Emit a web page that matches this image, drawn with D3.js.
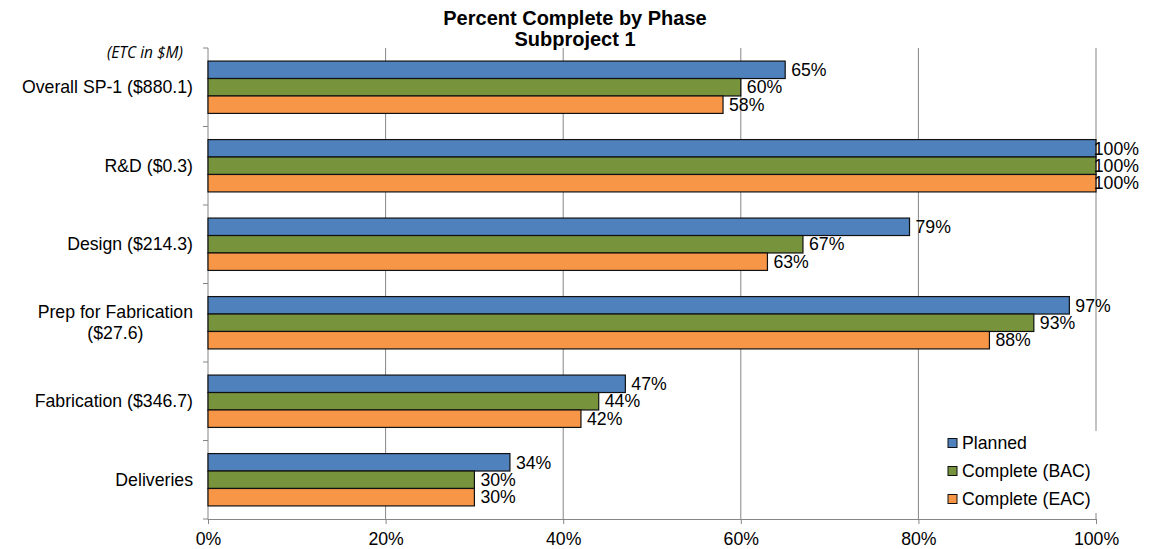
<!DOCTYPE html>
<html>
<head>
<meta charset="utf-8">
<script src="https://cdn.jsdelivr.net/npm/d3@7"></script>
<style>
  html, body { margin: 0; padding: 0; background: #fff; }
  svg { display: block; font-family: "Liberation Sans", Arial, sans-serif; }
</style>
</head>
<body>
<svg id="chart" width="1163" height="549"></svg>
<script>
// Phases with their estimate-to-complete in $M
const categories = [
  ["Overall SP-1 ($880.1)"],
  ["R&D ($0.3)"],
  ["Design ($214.3)"],
  ["Prep for Fabrication", "($27.6)"],
  ["Fabrication ($346.7)"],
  ["Deliveries"]
];
const seriesNames = ["Planned", "Complete (BAC)", "Complete (EAC)"];
const seriesColors = ["#4F81BD", "#77933C", "#F79646"];
const planned     = [65, 100, 79, 97, 47, 34];
const completeBAC = [60, 100, 67, 93, 44, 30];
const completeEAC = [58, 100, 63, 88, 42, 30];
const xTicks = [0, 20, 40, 60, 80, 100];

const seriesValues = [planned, completeBAC, completeEAC];
const catKeys = categories.map(c => c.join(" "));

const svg = d3.select("#chart");
const plot = { left: 208, right: 1096, top: 48, bottom: 519 };
const gridColor = "#868686";
const fs = 17.7;

const x = d3.scaleLinear().domain([0, 100]).range([plot.left, plot.right]);
const y0 = d3.scaleBand().domain(catKeys).range([plot.top, plot.bottom])
  .paddingInner(1 / 3).paddingOuter(1 / 6);
const y1 = d3.scaleBand().domain(seriesNames).range([0, y0.bandwidth()]);

// Title
svg.append("text").attr("x", 575).attr("y", 25).attr("text-anchor", "middle")
  .attr("font-size", 20).attr("font-weight", "bold").text("Percent Complete by Phase");
svg.append("text").attr("x", 575).attr("y", 46).attr("text-anchor", "middle")
  .attr("font-size", 20).attr("font-weight", "bold").text("Subproject 1");

// Vertical gridlines
svg.append("g").selectAll("line").data(xTicks.filter(t => t > 0)).join("line")
  .attr("x1", d => x(d)).attr("x2", d => x(d))
  .attr("y1", plot.top).attr("y2", plot.bottom)
  .attr("stroke", gridColor).attr("stroke-width", 1);

// Bottom axis
const xAxis = d3.axisBottom(x).tickValues(xTicks).tickFormat(d => d + "%")
  .tickSize(5).tickSizeOuter(0).tickPadding(8);
const gx = svg.append("g").attr("transform", `translate(0,${plot.bottom})`).call(xAxis);
gx.select(".domain").attr("stroke", gridColor);
gx.selectAll(".tick line").attr("stroke", gridColor);
gx.selectAll(".tick text").attr("font-size", fs).attr("fill", "#000")
  .attr("font-family", "'Liberation Sans', Arial, sans-serif");

// Left axis: line with tick marks between categories
svg.append("line").attr("x1", plot.left).attr("x2", plot.left)
  .attr("y1", plot.top).attr("y2", plot.bottom + 1).attr("stroke", gridColor);
const step = y0.step();
svg.append("g").selectAll("line").data(d3.range(catKeys.length + 1)).join("line")
  .attr("x1", plot.left - 5).attr("x2", plot.left)
  .attr("y1", i => plot.top + i * step).attr("y2", i => plot.top + i * step)
  .attr("stroke", gridColor);

// Category labels
const catG = svg.append("g");
categories.forEach((lines, i) => {
  const cy = y0(catKeys[i]) + y0.bandwidth() / 2;
  const lh = 21;
  const t = catG.append("text").attr("font-size", fs).attr("fill", "#000");
  if (lines.length === 1) {
    t.attr("x", 193).attr("y", cy).attr("dy", "0.35em").attr("text-anchor", "end").text(lines[0]);
  } else {
    t.attr("text-anchor", "middle");
    const spans = lines.map((s, j) => t.append("tspan")
      .attr("y", cy + (j - (lines.length - 1) / 2) * lh).attr("dy", "0.35em").text(s));
    const w = d3.max(spans, s => s.node().getComputedTextLength());
    spans.forEach(s => s.attr("x", 193 - w / 2));
  }
});

svg.append("text").attr("x", 183).attr("y", 53).attr("dy", "0.35em")
  .attr("text-anchor", "end").attr("font-size", 15.5).attr("font-style", "italic")
  .attr("font-family", "'Open Sans', 'Liberation Sans', sans-serif")
  .attr("fill", "#000").text("(ETC in $M)");

// Bars
const rows = [];
catKeys.forEach((k, i) => seriesNames.forEach((s, j) =>
  rows.push({ cat: k, series: s, color: seriesColors[j], value: seriesValues[j][i] })));

const barG = svg.append("g");
barG.selectAll("rect").data(rows).join("rect")
  .attr("x", x(0))
  .attr("y", d => y0(d.cat) + y1(d.series))
  .attr("width", d => x(d.value) - x(0))
  .attr("height", y1.bandwidth())
  .attr("fill", d => d.color)
  .attr("stroke", "#111").attr("stroke-width", 1.2);

// Value labels
const labelLimit = 1139;
barG.selectAll("text").data(rows).join("text")
  .attr("font-size", fs).attr("fill", "#000")
  .attr("y", d => y0(d.cat) + y1(d.series) + y1.bandwidth() / 2)
  .attr("dy", "0.35em")
  .text(d => d.value + "%")
  .attr("x", function (d) {
    const w = this.getComputedTextLength();
    return Math.min(x(d.value) + 6, labelLimit - w);
  });

// Legend
const lg = svg.append("g");
lg.append("rect").attr("x", 936).attr("y", 431).attr("width", 170).attr("height", 82).attr("fill", "#fff");
seriesNames.forEach((s, j) => {
  const cy = 443 + j * 28;
  lg.append("rect").attr("x", 948).attr("y", cy - 4.5).attr("width", 9).attr("height", 9)
    .attr("fill", seriesColors[j]).attr("stroke", "#111").attr("stroke-width", 1);
  lg.append("text").attr("x", 962).attr("y", cy).attr("dy", "0.35em")
    .attr("font-size", fs).attr("fill", "#000").text(s);
});
</script>
</body>
</html>
